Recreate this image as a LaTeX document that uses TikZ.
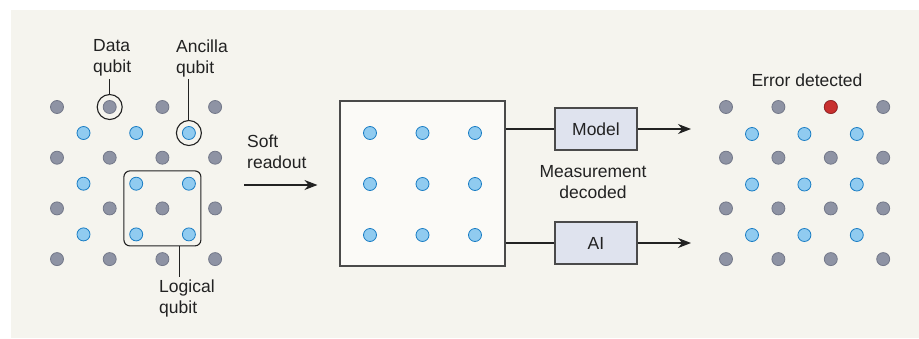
\documentclass[tikz,border=0pt]{standalone}
\usepackage{fontspec}
\setmainfont{Liberation Sans}
\usetikzlibrary{arrows.meta,positioning,calc}
\definecolor{bgcol}{HTML}{F5F4EE}
\definecolor{panelfill}{HTML}{FBFAF7}
\definecolor{boxfill}{HTML}{DFE3EE}
\definecolor{boxline}{HTML}{4A4A4A}
\definecolor{dotgray}{HTML}{8E93A4}
\definecolor{dotgrayline}{HTML}{737889}
\definecolor{dotblue}{HTML}{90CBF0}
\definecolor{dotblueline}{HTML}{1A7DC4}
\definecolor{dotred}{HTML}{C8302F}
\definecolor{dotredline}{HTML}{9C2222}
\definecolor{ink}{HTML}{222222}

\begin{document}
\begin{tikzpicture}[x=1pt,y=-1pt,
      font=\fontsize{17.5}{21}\selectfont,text=ink,
      dqb/.style={circle,inner sep=0pt,minimum size=13pt,fill=dotgray,
                  draw=dotgrayline,line width=0.8pt},
      aqb/.style={dqb,fill=dotblue,draw=dotblueline},
      eqb/.style={dqb,fill=dotred,draw=dotredline},
      ring/.style={circle,draw=ink,line width=1.1pt,minimum size=25pt,inner sep=0pt},
      lbl/.style={align=left,inner sep=2pt},
      proc/.style={draw=boxline,fill=boxfill,line width=1.1pt,minimum width=82pt,
                   minimum height=42pt,inner sep=0pt},
      wire/.style={draw=ink,line width=1.1pt},
      arr/.style={wire,-{Stealth[length=13pt,width=10pt]}}]
    \useasboundingbox (0,0) rectangle (919,338);
    \fill[bgcol] (11,10) rectangle (919,338);
    % surface code lattice
    \foreach \i in {0,...,3}
      \foreach \j in {0,...,3}
        \node[dqb] (ld-\i-\j) at ({57+52.7*\i},{107+50.7*\j}) {};
    \foreach \i in {0,1,2}
      \foreach \j in {0,1,2}
        \node[aqb] (la-\i-\j) at ({83.5+52.7*\i},{133+50.7*\j}) {};
    \node[ring] (dring) at (ld-1-0) {};
    \node[ring] (aring) at (la-2-0) {};
    \node[draw=ink,rounded corners=6pt,line width=1.1pt,minimum width=77pt,
          minimum height=75pt] (logic) at (ld-2-2) {};
    \node[lbl,anchor=west] (dlbl) at (91,58) {Data\\qubit};
    \node[lbl,anchor=west] (albl) at (174,58) {Ancilla\\qubit};
    \node[lbl,anchor=west] (llbl) at (157,298) {Logical\\qubit};
    \draw[wire] (dring) -- (dring |- dlbl.south);
    \draw[wire] (aring) -- (aring |- albl.south);
    \draw[wire] ([xshift=17pt]logic.south) -- ([xshift=17pt]logic.south |- llbl.north);
    % readout panel
    \node[lbl,anchor=west] (soft) at (245,152) {Soft\\readout};
    \node[draw=boxline,fill=panelfill,line width=1.1pt,minimum size=165pt,
          inner sep=0pt] (panel) at (422.5,183.5) {};
    \foreach \i in {0,1,2}
      \foreach \j in {0,1,2}
        \node[aqb] (m-\i-\j) at ({370+52.5*\i},{133+51*\j}) {};
    \coordinate (rin) at (244,185);
    \draw[arr,shorten >=22pt] (rin) -- (rin -| panel.west);
    % decoders
    \node[proc] (model) at (596,129) {Model};
    \node[proc] (ai) at (596,243) {AI};
    \node[align=center] (meas) at (593,182) {Measurement\\decoded};
    \coordinate (out1) at (691,129);
    \coordinate (out2) at (691,243);
    \draw[wire] (panel.east |- model) -- (model);
    \draw[wire] (panel.east |- ai) -- (ai);
    \draw[arr] (model) -- (out1);
    \draw[arr] (ai) -- (out2);
    % decoded lattice
    \foreach \i in {0,...,3}
      \foreach \j in {0,...,3}
        \node[dqb] (rd-\i-\j) at ({726+52.4*\i},{107+50.7*\j}) {};
    \node[eqb] (err-dot) at (rd-2-0) {};
    \foreach \i in {0,1,2}
      \foreach \j in {0,1,2}
        \node[aqb] (ra-\i-\j) at ({752+52.4*\i},{134+50.5*\j}) {};
    \node (err) at (807,80) {Error detected};
  \end{tikzpicture}
\end{document}
